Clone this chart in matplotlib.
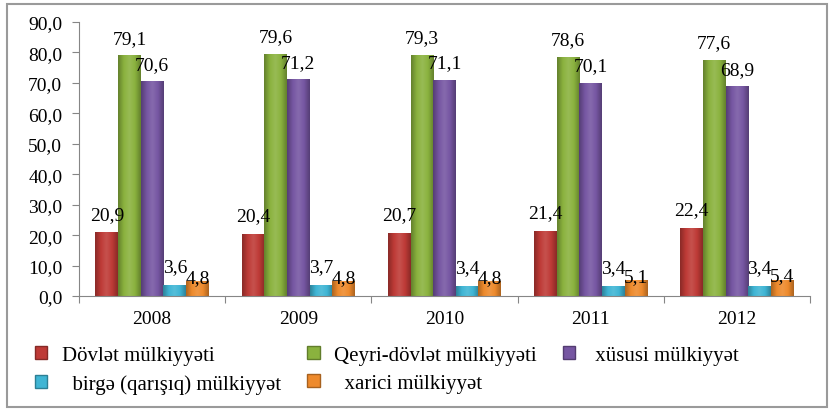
import matplotlib
matplotlib.use("Agg")
import numpy as np
import matplotlib.pyplot as plt
from matplotlib.patches import Patch, Rectangle
from matplotlib.colors import LinearSegmentedColormap, to_rgb

# Data
years = ["2008", "2009", "2010", "2011", "2012"]
series_names = ["Dövlət mülkiyyəti", "Qeyri-dövlət mülkiyyəti", " xüsusi mülkiyyət",
                "  birgə (qarışıq) mülkiyyət", "  xarici mülkiyyət"]
dovlet = [20.9, 20.4, 20.7, 21.4, 22.4]
qeyri_dovlet = [79.1, 79.6, 79.3, 78.6, 77.6]
xususi = [70.6, 71.2, 71.1, 70.1, 68.9]
birge = [3.6, 3.7, 3.4, 3.4, 3.4]
xarici = [4.8, 4.8, 4.8, 5.1, 5.4]

series = [dovlet, qeyri_dovlet, xususi, birge, xarici]
colors = ["#BE3A36", "#8AB23E", "#7656A2", "#3FB5D4", "#EE8A2C"]
label_offsets = [6.0, 5.5, 5.5, 6.0, 1.2]

plt.rcParams['font.family'] = ['Liberation Serif', 'DejaVu Serif']


def shade(c, f):
    r = np.array(to_rgb(c))
    if f < 1:
        return tuple(r * f)
    return tuple(r + (1 - r) * (f - 1))


fig = plt.figure(figsize=(8.3, 4.1), dpi=100)
ax = fig.add_axes([79 / 830, (410 - 297) / 410, 731 / 830, 274 / 410])
ax.set_xlim(-0.5, len(years) - 0.5)
ax.set_ylim(0, 90)

bar_w = 0.155
x = list(range(len(years)))
for i, vals in enumerate(series):
    xs = [xi + (i - 2) * bar_w for xi in x]
    bars = ax.bar(xs, vals, width=bar_w, color=colors[i], linewidth=0)
    # horizontal gradient, like the rounded 3D bars of the original
    cmap = LinearSegmentedColormap.from_list(
        "g", [shade(colors[i], 0.72), shade(colors[i], 1.0), shade(colors[i], 1.12),
              shade(colors[i], 1.0), shade(colors[i], 0.72)])
    grad = np.linspace(0, 1, 64).reshape(1, -1)
    for b in bars:
        bx, by = b.get_x(), b.get_y()
        bw, bh = b.get_width(), b.get_height()
        im = ax.imshow(grad, cmap=cmap, aspect="auto", extent=(bx, bx + bw, by, by + bh),
                       interpolation="bicubic", zorder=2)
        im.set_clip_path(b)
    for xx, v in zip(xs, vals):
        ax.text(xx, v + label_offsets[i], f"{v:.1f}".replace(".", ","),
                ha="center", va="center", fontsize=14, zorder=4)

ax.set_xlim(-0.5, len(years) - 0.5)
ax.set_ylim(0, 90)
ax.set_yticks(range(0, 91, 10))
ax.set_yticklabels([f"{t:.1f}".replace(".", ",") for t in range(0, 91, 10)], fontsize=14)
ax.set_xticks([k - 0.5 for k in range(len(years) + 1)])
ax.set_xticklabels([])
ax.set_xticks(x, minor=True)
ax.set_xticklabels(years, minor=True, fontsize=14)
ax.tick_params(axis="x", which="minor", length=0, pad=10)
ax.tick_params(axis="x", which="major", length=5, color="#868686")
ax.tick_params(axis="y", length=5, color="#868686", pad=7)
for s in ["top", "right"]:
    ax.spines[s].set_visible(False)
for s in ["left", "bottom"]:
    ax.spines[s].set_color("#868686")

handles = [Patch(facecolor=c, edgecolor=shade(c, 0.7)) for c in colors]
order = [0, 3, 1, 4, 2]
fig.legend([handles[k] for k in order], [series_names[k] for k in order],
           ncol=3, loc="upper left", bbox_to_anchor=(16 / 830, 1 - 328 / 410),
           frameon=False, prop={"family": ["Liberation Serif", "DejaVu Serif"], "size": 15},
           handlelength=0.6, handleheight=0.6,
           handletextpad=0.7, columnspacing=1.25, labelspacing=0.45)

fig.patches.append(Rectangle((7 / 830, 2 / 410), 820 / 830, 403 / 410, transform=fig.transFigure,
                             fill=False, edgecolor="#9A9A9A", linewidth=1.5))

fig.savefig("out.png", dpi=100)
